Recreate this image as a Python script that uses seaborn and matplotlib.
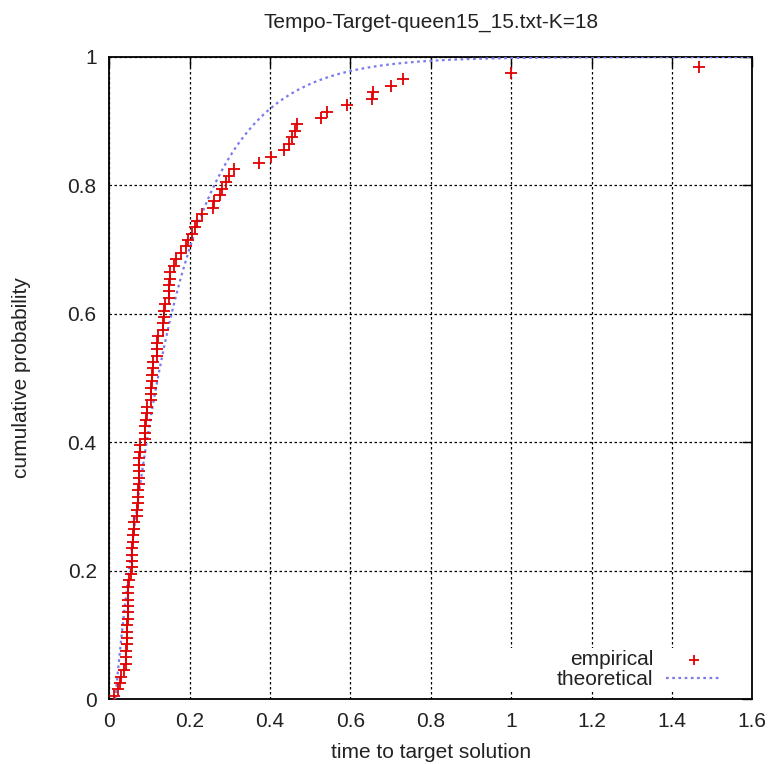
import numpy as np
import pandas as pd
import matplotlib
matplotlib.use("Agg")
import matplotlib.pyplot as plt
from matplotlib.patches import Rectangle
import seaborn as sns

# ---- data ----
title = "Tempo-Target-queen15_15.txt-K=18"
x_label = "time to target solution"
y_label = "cumulative probability"

# sorted times to target (100 runs; the last one lies beyond the visible x range)
times = [
    0.012, 0.022, 0.026, 0.030, 0.038,
    0.042, 0.043, 0.043, 0.044, 0.044, 0.045, 0.045, 0.046, 0.046, 0.047, 0.047, 0.048, 0.048, 0.049,
    0.055, 0.056, 0.057, 0.058, 0.058, 0.059, 0.060, 0.061, 0.062,
    0.069, 0.070, 0.071, 0.071, 0.072, 0.073, 0.073, 0.074, 0.075, 0.075, 0.076, 0.077,
    0.088, 0.089, 0.090, 0.091, 0.093, 0.095,
    0.103, 0.104, 0.105, 0.106, 0.107, 0.108, 0.110,
    0.118, 0.119, 0.120, 0.122, 0.133, 0.135, 0.136,
    0.137, 0.140,
    0.148, 0.149, 0.150, 0.151, 0.152,
    0.162, 0.167,
    0.178,
    0.190, 0.195,
    0.205, 0.213, 0.218,
    0.230,
    0.258, 0.262, 0.275, 0.281, 0.290, 0.298, 0.310,
    0.372, 0.402, 0.435, 0.448, 0.455, 0.462, 0.467,
    0.527, 0.543, 0.592, 0.655, 0.656, 0.700, 0.732,
    0.999, 1.468,
    1.750,
]

# fitted shifted exponential of the theoretical curve
theo_shift = 0.015
theo_scale = 0.153

x_ticks = [0, 0.2, 0.4, 0.6, 0.8, 1.0, 1.2, 1.4, 1.6]
x_tick_labels = ["0", "0.2", "0.4", "0.6", "0.8", "1", "1.2", "1.4", "1.6"]
y_ticks = [0, 0.2, 0.4, 0.6, 0.8, 1.0]
y_tick_labels = ["0", "0.2", "0.4", "0.6", "0.8", "1"]

# ---- derived tables ----
n = len(times)
prob = [(i - 0.5) / n for i in range(1, n + 1)]
emp = pd.DataFrame({"t": times, "p": prob})

t_grid = np.linspace(theo_shift, 1.6, 400)
theo = pd.DataFrame({"t": t_grid, "p": 1 - np.exp(-(t_grid - theo_shift) / theo_scale)})

# ---- plot ----
sns.set_theme(style="white")
plt.rcParams["font.family"] = ["Liberation Sans", "DejaVu Sans"]
txt_col = "#222222"
fs = 15

fig = plt.figure(figsize=(7.71, 7.64), dpi=100)
ax = fig.add_axes([0.1416, 0.085, 0.8342, 0.8404])

sns.lineplot(data=theo, x="t", y="p", ax=ax, color="#7a7af0", linestyle=(0, (1.2, 1.6)),
             linewidth=1.6, label="theoretical", zorder=3)
sns.scatterplot(data=emp, x="t", y="p", ax=ax, marker="+", color="#e00000", s=85,
                linewidth=1.3, label="empirical", zorder=4)

ax.set_xlim(0, 1.6)
ax.set_ylim(0, 1.0)
ax.set_xticks(x_ticks)
ax.set_xticklabels(x_tick_labels)
ax.set_yticks(y_ticks)
ax.set_yticklabels(y_tick_labels)

ax.grid(True, color="black", linestyle=(0, (2, 2)), linewidth=0.9)
ax.set_axisbelow(True)
for sp in ax.spines.values():
    sp.set_color("black")
    sp.set_linewidth(1.3)
    sp.set_visible(True)

ax.tick_params(axis="both", which="major", direction="in", length=7, width=1,
               top=True, right=True, labelsize=fs, labelcolor=txt_col, color="black", pad=9)

ax.set_title(title, fontsize=fs, pad=21, color=txt_col)
ax.set_xlabel(x_label, fontsize=fs, color=txt_col)
ax.set_ylabel(y_label, fontsize=fs, color=txt_col)
ax.xaxis.set_label_coords(0.5, -0.069)
ax.yaxis.set_label_coords(-0.122, 0.5)

# white key box that interrupts the grid (as in the reference)
ax.add_patch(Rectangle((0.615, 0.011), 0.385, 0.069, transform=ax.transAxes,
                       facecolor="white", edgecolor="none", zorder=1))

handles, labels = ax.get_legend_handles_labels()
order = [labels.index("empirical"), labels.index("theoretical")]
leg = ax.legend([handles[i] for i in order], [labels[i] for i in order],
                loc="lower right", bbox_to_anchor=(0.953, 0.015), markerfirst=False,
                frameon=False, fontsize=fs, handlelength=2.7, borderaxespad=0,
                borderpad=0, labelspacing=0.05, handletextpad=0.6, markerscale=0.75)
for t in leg.get_texts():
    t.set_color(txt_col)
leg.set_zorder(5)

fig.savefig("out.png", dpi=100)
